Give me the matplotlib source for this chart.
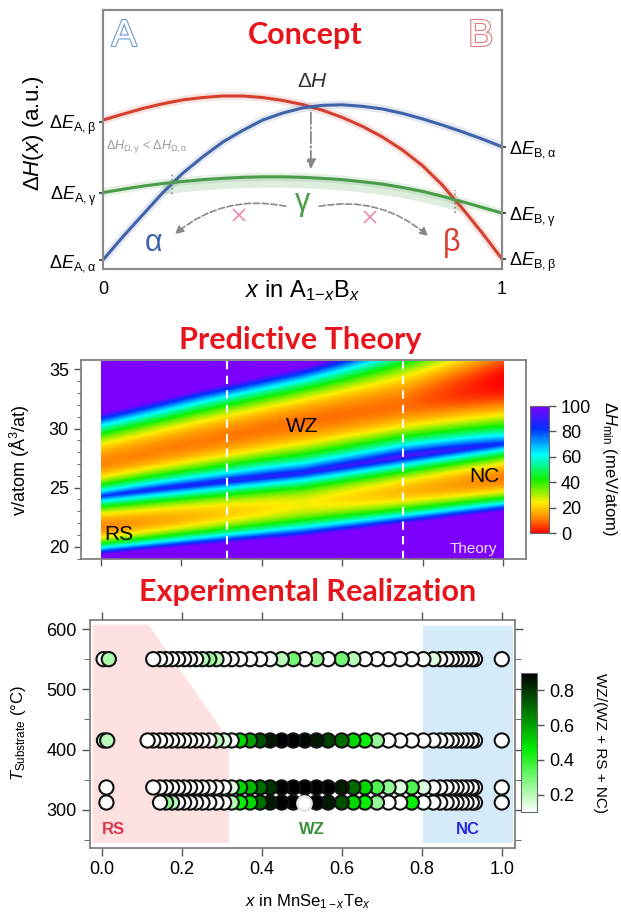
import numpy as np
import matplotlib.pyplot as plt
from matplotlib.colors import LinearSegmentedColormap
from matplotlib.patches import Polygon
import matplotlib.patheffects as pe

plt.rcParams['font.family'] = ['Liberation Sans', 'DejaVu Sans']
plt.rcParams['mathtext.fontset'] = 'custom'
plt.rcParams['mathtext.rm'] = 'Liberation Sans'
plt.rcParams['mathtext.it'] = 'Liberation Sans:italic'
plt.rcParams['mathtext.bf'] = 'Liberation Sans:bold'
plt.rcParams['xtick.direction'] = 'out'
plt.rcParams['ytick.direction'] = 'out'

# ---- concept curves (arbitrary units)
conc_x = [0.0, 0.05, 0.1, 0.15, 0.2, 0.25, 0.3, 0.35, 0.4, 0.45, 0.5,
          0.55, 0.6, 0.65, 0.7, 0.75, 0.8, 0.85, 0.9, 0.95, 1.0]
alpha_curve = [0.035, 0.125, 0.21, 0.295, 0.37, 0.433, 0.49, 0.535, 0.575, 0.602, 0.622,
               0.632, 0.634, 0.628, 0.618, 0.601, 0.58, 0.556, 0.53, 0.502, 0.472]
beta_curve = [0.575, 0.598, 0.62, 0.638, 0.653, 0.662, 0.668, 0.668, 0.662, 0.651, 0.635,
              0.613, 0.585, 0.551, 0.51, 0.46, 0.40, 0.325, 0.235, 0.14, 0.039]
gamma_curve = [0.295, 0.308, 0.32, 0.33, 0.338, 0.345, 0.35, 0.354, 0.356, 0.356, 0.354,
               0.35, 0.345, 0.337, 0.328, 0.315, 0.30, 0.281, 0.26, 0.238, 0.216]
left_levels = [0.035, 0.295, 0.569]
left_labels = [r'$\Delta E_{\mathrm{A,α}}$', r'$\Delta E_{\mathrm{A,γ}}$', r'$\Delta E_{\mathrm{A,β}}$']
right_levels = [0.039, 0.216, 0.472]
right_labels = [r'$\Delta E_{\mathrm{B,β}}$', r'$\Delta E_{\mathrm{B,γ}}$', r'$\Delta E_{\mathrm{B,α}}$']

# ---- theory: two valleys in v/atom (upper = WZ, lower = RS->NC)
wz_nodes = [0.0, 0.25, 0.5, 0.75, 1.0]
wz_v0 = [27.1, 28.9, 30.6, 32.0, 34.0]
wz_E = [12, 11, 10, 10, 0]
wz_kc = [9, 6, 4.2, 4.5, 3]
wz_ke = [5, 4.5, 4.3, 2.6, 2.6]
low_nodes = [0.0, 0.5, 1.0]
low_v0 = [21.7, 23.6, 25.8]
low_E = [12, 25, 11]
low_kc = [16, 10, 11.5]
low_ke = [10.5, 9.0, 8.7]
dashed_x = [0.313, 0.752]

# ---- experiment
x_main = [0.129, 0.146, 0.161, 0.176, 0.191, 0.206, 0.221, 0.236, 0.252, 0.269,
          0.287, 0.306, 0.325, 0.346, 0.371, 0.396, 0.421, 0.450, 0.479, 0.508,
          0.537, 0.566, 0.600, 0.629, 0.658, 0.688, 0.717, 0.746, 0.775, 0.804,
          0.829, 0.846, 0.862, 0.875, 0.887, 0.900, 0.912, 0.925, 0.933]
f_550 = [0.05, 0.05, 0.05, 0.05, 0.05, 0.05, 0.05, 0.05, 0.2, 0.25,
         0.2, 0.05, 0.05, 0.05, 0.05, 0.05, 0.05, 0.2, 0.3, 0.05,
         0.25, 0.05, 0.3, 0.2, 0.05, 0.05, 0.05, 0.05, 0.05, 0.05,
         0.15, 0.05, 0.05, 0.05, 0.05, 0.05, 0.05, 0.05, 0.05]
f_415 = [0.05, 0.05, 0.05, 0.05, 0.05, 0.05, 0.05, 0.05, 0.05, 0.05, 0.05,
         0.2, 0.15, 0.05, 0.5, 0.6, 0.75, 0.85, 0.9, 0.9, 0.88,
         0.85, 0.78, 0.7, 0.5, 0.45, 0.25, 0.05, 0.05, 0.05, 0.05,
         0.05, 0.05, 0.05, 0.05, 0.05, 0.05, 0.05, 0.05, 0.05]
f_337 = [0.05, 0.05, 0.05, 0.05, 0.05, 0.05, 0.05, 0.05, 0.05, 0.05,
         0.05, 0.1, 0.15, 0.5, 0.55, 0.7, 0.8, 0.9, 0.9, 0.9,
         0.9, 0.9, 0.85, 0.7, 0.5, 0.35, 0.25, 0.15, 0.35, 0.15,
         0.1, 0.05, 0.05, 0.05, 0.05, 0.05, 0.05, 0.05, 0.05]
f_312 = [0.05, 0.25, 0.2, 0.05, 0.05, 0.05, 0.05, 0.05, 0.05, 0.05,
         0.05, 0.2, 0.45, 0.5, 0.7, 0.85, 0.9, 0.9, 0.9, 0.9,
         0.85, 0.75, 0.5, 0.45, 0.25, 0.1, 0.05, 0.45, 0.05, 0.05,
         0.05, 0.05, 0.05, 0.05, 0.05, 0.05, 0.05, 0.05]
x_415 = [0.115] + x_main
x_312 = x_main[1:]
end_x = [0.005, 0.018, 0.006, 0.014, 0.012, 0.012, 1.0, 1.0, 1.0, 1.0]
end_T = [550, 550, 415, 415, 337, 312, 550, 415, 337, 312]
end_f = [0.05, 0.22, 0.2, 0.2, 0.05, 0.05, 0.05, 0.05, 0.05, 0.05]
odd_x, odd_T = 0.506, 312

W, H = 621, 913
fig = plt.figure(figsize=(W / 100, H / 100), dpi=100)
def box(l, t, r, b):
    return [l / W, 1 - b / H, (r - l) / W, (b - t) / H]

red_title = '#e8141c'
title_kw = dict(fontsize=22, fontweight='bold', color=red_title, family='Lato', ha='center', va='center')

# ================= Concept =================
ax1 = fig.add_axes(box(103, 10, 502, 269))
ax1.set_xlim(0, 1)
ax1.set_ylim(0, 1)
blue, red, green = '#3f62a8', '#d5402e', '#4a9c4a'
cx = np.array(conc_x)
gam = np.array(gamma_curve)
m = (cx >= 0.15) & (cx <= 0.9)
ax1.fill_between(cx[m], gam[m] - 0.04, gam[m], color=green, alpha=0.18, lw=0)
for ys, c in ((beta_curve, red), (alpha_curve, blue), (gamma_curve, green)):
    ax1.plot(conc_x, ys, color=c, lw=6, alpha=0.15, solid_capstyle='butt')
    ax1.plot(conc_x, ys, color=c, lw=2.2)
gray = '#888888'
ax1.plot([0.172, 0.172], [0.29, 0.365], ls=':', color=gray, lw=1.2)
ax1.plot([0.882, 0.882], [0.215, 0.305], ls=':', color=gray, lw=1.2)
ax1.annotate('', xy=(0.521, 0.375), xytext=(0.521, 0.615),
             arrowprops=dict(arrowstyle='-|>', color=gray, ls='-.', lw=1.3, mutation_scale=14))
ax1.annotate('', xy=(0.175, 0.128), xytext=(0.465, 0.24),
             arrowprops=dict(arrowstyle='-|>', color=gray, ls='--', lw=1.2, mutation_scale=12,
                             connectionstyle='arc3,rad=0.25'))
ax1.annotate('', xy=(0.82, 0.12), xytext=(0.535, 0.24),
             arrowprops=dict(arrowstyle='-|>', color=gray, ls='--', lw=1.2, mutation_scale=12,
                             connectionstyle='arc3,rad=-0.25'))
ax1.plot([0.341, 0.669], [0.208, 0.202], 'x', color='#e890b8', ms=8, mew=1.3)
ax1.text(0.525, 0.723, r'$\Delta H$', fontsize=15, color='#333333', ha='center', va='center')
ax1.text(0.127, 0.099, 'α', fontsize=22, color=blue, ha='center', va='center')
ax1.text(0.874, 0.099, 'β', fontsize=22, color=red, ha='center', va='center')
ax1.text(0.5, 0.26, 'γ', fontsize=22, color=green, ha='center', va='center')
ax1.text(0.008, 0.472, r'$\Delta H_{\mathrm{Ω,γ}}$ < $\Delta H_{\mathrm{Ω,α}}$', fontsize=9,
         color='#999999', ha='left', va='center')
for lab, xx, col in (('A', 0.053, '#6d9ad6'), ('B', 0.947, '#e07a7a')):
    ax1.text(xx, 0.9, lab, fontsize=27, color='white', ha='center', va='center',
             path_effects=[pe.Stroke(linewidth=1.6, foreground=col), pe.Normal()])
ax1.text(0.506, 0.903, 'Concept', **title_kw)
ax1.set_yticks(left_levels)
ax1.set_yticklabels(left_labels, fontsize=13)
ax1.set_xticks([0, 1])
ax1.set_xticklabels(['0', '1'], fontsize=13)
ax1.tick_params(axis='x', length=0, pad=9)
ax1.tick_params(axis='y', length=3, width=1.5, pad=2, color='#555555')
ax1r = ax1.twinx()
ax1r.set_ylim(0, 1)
ax1r.set_yticks(right_levels)
ax1r.set_yticklabels(right_labels, fontsize=13)
ax1r.tick_params(axis='y', length=3, width=1.5, pad=2, color='#555555')
for a in (ax1, ax1r):
    for s in a.spines.values():
        s.set_color('#8a8a8a')
        s.set_linewidth(1.5)
ax1.text(0.5, -0.083, r'$x$ in A$_{1\mathrm{-}x}$B$_x$', fontsize=17, ha='center', va='center',
         transform=ax1.transAxes)
fig.text(34 / W, 1 - 133 / H, r'$\Delta H(x)$ (a.u.)', fontsize=16, rotation=90, ha='center', va='center')

# ================= Predictive Theory =================
fig.text(300 / W, 1 - 340 / H, 'Predictive Theory', **title_kw)
ax2 = fig.add_axes(box(80.7, 360, 526, 559))
gx = np.linspace(0, 1, 500)
gv = np.linspace(19.0, 35.7, 400)
X, V = np.meshgrid(gx, gv)

def valley(nodes, v0n, En, kcn, ken):
    v0 = np.interp(X, nodes, v0n)
    e0 = np.interp(X, nodes, En)
    kc = np.interp(X, nodes, kcn)
    ke = np.interp(X, nodes, ken)
    dv = V - v0
    return e0 + np.where(dv < 0, kc, ke) * dv ** 2

Hmin = np.minimum(valley(wz_nodes, wz_v0, wz_E, wz_kc, wz_ke),
                  valley(low_nodes, low_v0, low_E, low_kc, low_ke))
Hmin = np.clip(Hmin, 0, 100)
rainbow = LinearSegmentedColormap.from_list('rb', [(0, '#ff0000'), (0.12, '#ff8a00'), (0.24, '#ffee00'),
                                                   (0.42, '#10f000'), (0.62, '#00ffff'),
                                                   (0.82, '#0030ff'), (1.0, '#7d00ff')])
im = ax2.imshow(Hmin, extent=[0, 1, 19.0, 35.7], origin='lower', aspect='auto', cmap=rainbow,
                vmin=0, vmax=100, interpolation='bilinear')
for xd in dashed_x:
    ax2.plot([xd, xd], [19.0, 35.7], color='white', ls='--', lw=1.5, dashes=(4, 3))
ax2.set_xlim(-0.05, 1.057)
ax2.set_ylim(18.96, 35.8)
ax2.set_xticks([0, 0.2, 0.4, 0.6, 0.8, 1.0])
ax2.set_xticklabels([])
ax2.set_yticks([20, 25, 30, 35])
ax2.set_yticks(np.arange(19, 36, 1), minor=True)
ax2.tick_params(labelsize=13, length=5, width=1, color='#555555')
ax2.tick_params(which='minor', length=3, color='#555555')
for s in ax2.spines.values():
    s.set_color('#777777')
    s.set_linewidth(1.2)
ax2.text(0.5, 30.2, 'WZ', fontsize=15, ha='center', va='center')
ax2.text(0.008, 21.0, 'RS', fontsize=15, ha='left', va='center')
ax2.text(0.99, 25.9, 'NC', fontsize=15, ha='right', va='center')
ax2.text(0.985, 19.8, 'Theory', fontsize=11, color='#eedcff', ha='right', va='center')
fig.text(20 / W, 1 - 460 / H, r'v/atom (Å$^3$/at)', fontsize=13, rotation=90, ha='center', va='center')
cax2 = fig.add_axes(box(530, 406, 549, 533))
cb2 = fig.colorbar(im, cax=cax2, ticks=[0, 20, 40, 60, 80, 100])
cb2.ax.tick_params(labelsize=13, length=5, width=1, color='#555555')
cb2.outline.set_edgecolor('#666666')
fig.text(609 / W, 1 - 468 / H, r'$\Delta H_{\mathrm{min}}$ (meV/atom)', fontsize=12, rotation=270,
         ha='center', va='center')

# ================= Experimental Realization =================
fig.text(308 / W, 1 - 592 / H, 'Experimental Realization', **title_kw)
ax3 = fig.add_axes(box(90, 620, 515, 848))
ax3.add_patch(Polygon([(-0.022, 245), (-0.022, 607), (0.117, 607), (0.318, 416), (0.318, 245)],
                      closed=True, facecolor='#fde0e0', edgecolor='none', zorder=0))
ax3.add_patch(Polygon([(0.804, 245), (0.804, 605), (1.027, 605), (1.027, 245)],
                      closed=True, facecolor='#d5ebfa', edgecolor='none', zorder=0))
wzmap = LinearSegmentedColormap.from_list('wz', [(0, '#ffffff'), (0.45, '#00ee00'), (1, '#000000')])
sc_kw = dict(cmap=wzmap, vmin=0.1, vmax=0.9, s=105, edgecolors='#111111', linewidths=1.5, zorder=3)
rows = ((x_main, 550, f_550), (x_415, 415, f_415), (x_main, 337, f_337), (x_312, 312, f_312))
for xs, T, fs in rows:
    sc = ax3.scatter(xs[::-1], [T] * len(xs), c=fs[::-1], **sc_kw)
ax3.scatter(end_x, end_T, c=end_f, **sc_kw)
ax3.scatter([odd_x], [odd_T], s=105, facecolors='white', edgecolors='#e6e6e6', linewidths=1.8, zorder=4)
ax3.text(0.0, 267, 'RS', fontsize=12, fontweight='bold', color='#d83a4c', ha='left', va='center')
ax3.text(0.525, 267, 'WZ', fontsize=12, fontweight='bold', color='#3a8f3a', ha='center', va='center')
ax3.text(0.916, 267, 'NC', fontsize=12, fontweight='bold', color='#2a2ae0', ha='center', va='center')
ax3.set_xlim(-0.029, 1.033)
ax3.set_ylim(236.5, 615)
ax3.set_xticks([0, 0.2, 0.4, 0.6, 0.8, 1.0])
ax3.set_xticklabels(['0.0', '0.2', '0.4', '0.6', '0.8', '1.0'])
ax3.set_yticks([300, 400, 500, 600])
ax3.set_yticks([250, 350, 450, 550], minor=True)
ax3.tick_params(labelsize=13, length=6, width=1, color='#555555', top=True, right=True)
ax3.tick_params(which='minor', length=4, color='#555555', right=True)
for s in ax3.spines.values():
    s.set_color('#777777')
    s.set_linewidth(1.2)
fig.text(308 / W, 1 - 902 / H, r'$x$ in MnSe$_{1-x}$Te$_x$', fontsize=12, ha='center', va='center')
fig.text(19 / W, 1 - 733 / H, r'$T_{\mathrm{Substrate}}$ (°C)', fontsize=12, rotation=90, ha='center', va='center')
cax3 = fig.add_axes(box(521, 673, 537, 812))
cb3 = fig.colorbar(sc, cax=cax3, ticks=[0.2, 0.4, 0.6, 0.8])
cb3.ax.tick_params(labelsize=13, length=5, width=1, color='#555555')
cb3.outline.set_edgecolor('#666666')
fig.text(600 / W, 1 - 743 / H, 'WZ/(WZ + RS + NC)', fontsize=11, rotation=270, ha='center', va='center')

fig.savefig('out.png', dpi=100)
